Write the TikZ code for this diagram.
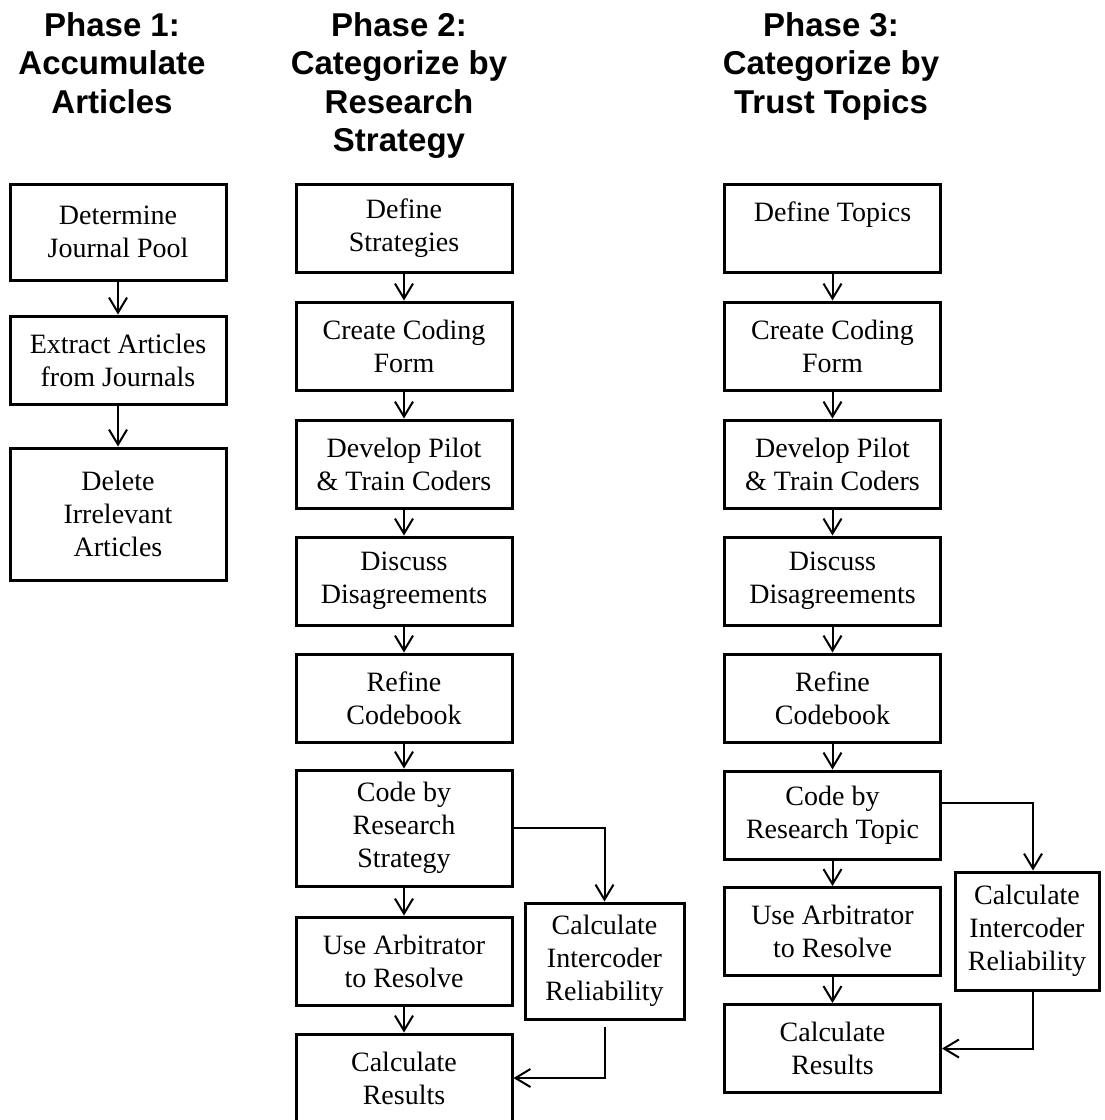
\documentclass[tikz,border=0pt]{standalone}
\usepackage{fontspec}
\setmainfont{Liberation Serif}
\newfontfamily\headfont{Liberation Sans}
\usetikzlibrary{arrows.meta}

\tikzset{
  stage/.style={draw,line width=3pt,minimum width=216pt,minimum height=88pt,
    align=center,inner sep=0pt,font=\fontsize{28}{33}\selectfont},
  phase/.style={anchor=north,align=center,inner sep=0pt,
    font=\headfont\bfseries\fontsize{33}{38.5}\selectfont},
  flow/.style={->,line width=2pt}
}

\begin{document}
\begin{tikzpicture}[x=1pt,y=-1pt,>={Straight Barb[length=15pt,width=18pt]}]
\clip (0,0) rectangle (1104,1120);
% headings
\node[phase] (ph1) at (112,12) {Phase 1:\\Accumulate\\Articles};
\node[phase] (ph2) at (399,12) {Phase 2:\\Categorize by\\Research\\Strategy};
\node[phase] (ph3) at (831,12) {Phase 3:\\Categorize by\\Trust Topics};
% phase 1
\node[stage,minimum height=96pt] (jpool) at (118,232) {Determine\\Journal Pool};
\node[stage] (extract) at (118,360) {Extract Articles\\from Journals};
\node[stage,minimum height=132pt] (delete) at (118,514) {Delete\\Irrelevant\\Articles};
\draw[flow] (jpool) -- (extract);
\draw[flow] (extract) -- (delete);
% phase 2
\node[stage] (sdefine) at (404,228) {Define\\Strategies};
\node[stage] (sform) at (404,346) {Create Coding\\Form};
\node[stage] (spilot) at (404,464) {Develop Pilot\\\& Train Coders};
\node[stage] (sdisc) at (404,581) {Discuss\\Disagreements};
\node[stage] (sbook) at (404,698) {Refine\\Codebook};
\node[stage,minimum height=116pt] (scode) at (404,828) {Code by\\Research\\Strategy};
\node[stage] (sarb) at (404,961) {Use Arbitrator\\to Resolve};
\node[stage] (sres) at (404,1078) {Calculate\\Results};
\node[stage,minimum width=159pt,minimum height=116pt] (sicr) at (604.5,961) {Calculate\\Intercoder\\Reliability};
\draw[flow] (sdefine) -- (sform);
\draw[flow] (sform) -- (spilot);
\draw[flow] (spilot) -- (sdisc);
\draw[flow] (sdisc) -- (sbook);
\draw[flow] (sbook) -- (scode);
\draw[flow] (scode) -- (sarb);
\draw[flow] (sarb) -- (sres);
\draw[flow] (scode.east) -| (sicr.north);
\draw[flow,shorten <=6pt] (sicr.south) |- (sres.east);
% phase 3
\node[stage] (tdefine) at (832.5,228) {Define Topics\\\mbox{}};
\node[stage] (tform) at (832.5,346) {Create Coding\\Form};
\node[stage] (tpilot) at (832.5,464) {Develop Pilot\\\& Train Coders};
\node[stage] (tdisc) at (832.5,581) {Discuss\\Disagreements};
\node[stage] (tbook) at (832.5,698) {Refine\\Codebook};
\node[stage] (tcode) at (832.5,815) {Code by\\Research Topic};
\node[stage] (tarb) at (832.5,931.5) {Use Arbitrator\\to Resolve};
\node[stage] (tres) at (832.5,1048.5) {Calculate\\Results};
\node[stage,minimum width=144pt,minimum height=118pt] (ticr) at (1027,931) {Calculate\\Intercoder\\Reliability};
\draw[flow] (tdefine) -- (tform);
\draw[flow] (tform) -- (tpilot);
\draw[flow] (tpilot) -- (tdisc);
\draw[flow] (tdisc) -- (tbook);
\draw[flow] (tbook) -- (tcode);
\draw[flow] (tcode) -- (tarb);
\draw[flow] (tarb) -- (tres);
\draw[flow] ([yshift=12pt]tcode.east) -| ([xshift=6pt]ticr.north);
\draw[flow] ([xshift=6pt]ticr.south) |- (tres.east);
\end{tikzpicture}
\end{document}
